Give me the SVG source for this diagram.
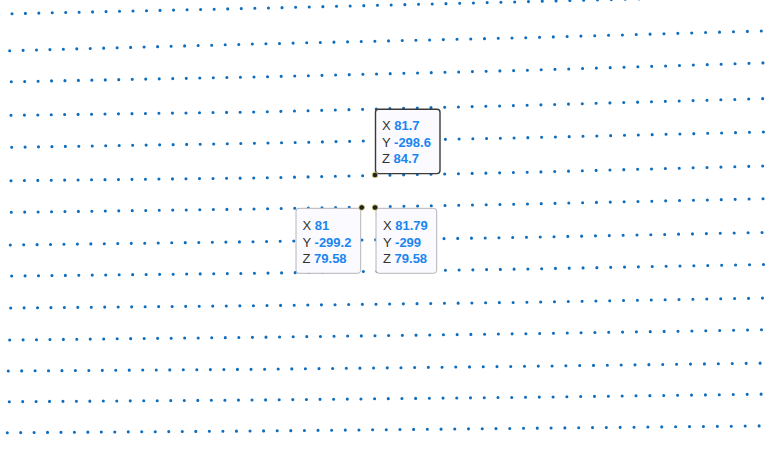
<svg xmlns="http://www.w3.org/2000/svg" width="770" height="456" viewBox="0 0 770 456">
<style>
.row{fill:none;stroke:#0e6dbd;stroke-width:3.1;stroke-linecap:round;stroke-dasharray:0 13.4 0 13.41 0 13.42 0 13.43 0 13.44 0 13.45 0 13.46 0 13.47 0 13.48 0 13.49 0 13.5 0 13.51 0 13.52 0 13.53 0 13.54 0 13.55 0 13.56 0 13.57 0 13.58 0 13.59 0 13.6 0 13.61 0 13.62 0 13.63 0 13.64 0 13.65 0 13.66 0 13.67 0 13.68 0 13.69 0 13.7 0 13.71 0 13.72 0 13.73 0 13.74 0 13.75 0 13.76 0 13.77 0 13.78 0 13.79 0 13.8 0 13.81 0 13.82 0 13.83 0 13.84 0 13.85 0 13.86 0 13.87 0 13.88 0 13.89 0 13.9 0 13.91 0 13.92 0 13.93 0 13.94 0 13.95 0 13.96 0 13.97 0 13.98 0 13.99}
.box{fill:#fafaff;stroke:#b4b4b8;stroke-width:1}
.box.sel{stroke:#3a3a3a;stroke-width:1.4}
.lb{font-family:"Liberation Sans",Arial,sans-serif;font-size:13px;fill:#333}
.v{fill:#1a86f0;font-weight:bold}
.pt{fill:#222;stroke:#e2d770;stroke-width:0.8}
</style>
<rect width="770" height="456" fill="#ffffff"/>
<g id="grid">
<polyline class="row" points="-1.4,14 255,8.3 525,1.7 750,-3.8 780,-4.5"/>
<polyline class="row" points="9.7,50.7 255,44 525,37.7 750,31.3 780,30.5"/>
<polyline class="row" points="11.3,81.7 255,77 525,70.3 750,63.3 780,62.4"/>
<polyline class="row" points="11,115.3 255,112 525,105.3 750,99 780,98.2"/>
<polyline class="row" points="11.7,147.3 255,143.3 525,137.7 750,132.3 780,131.6"/>
<polyline class="row" points="11,180.7 255,178 525,172.3 750,166.3 780,165.5"/>
<polyline class="row" points="11.3,212.3 255,209 525,204 750,199 780,198.3"/>
<polyline class="row" points="10.3,245 255,241.7 525,237.3 750,232.7 780,232.1"/>
<polyline class="row" points="11.7,276 255,273.3 525,269 750,264.7 780,264.1"/>
<polyline class="row" points="10.7,308 255,305.7 525,302.3 750,298.3 780,297.8"/>
<polyline class="row" points="9.7,340 255,337.3 525,333.7 750,330 780,329.5"/>
<polyline class="row" points="8.3,371 255,369.3 525,366.3 750,363.3 780,362.9"/>
<polyline class="row" points="9.3,401.7 255,400 525,397.3 750,394.3 780,393.9"/>
<polyline class="row" points="7.3,432.7 255,431 525,428.3 750,426 780,425.7"/>
</g>
<g id="connectors"></g>
<g id="node-a">
<rect class="box sel" x="375.5" y="109.3" width="64.5" height="64.3" rx="3"/>
<text class="lb" x="382" y="130.3">X <tspan class="v">81.7</tspan></text>
<text class="lb" x="382" y="146.8">Y <tspan class="v">-298.6</tspan></text>
<text class="lb" x="382" y="163.3">Z <tspan class="v">84.7</tspan></text>
<circle class="pt" cx="375" cy="175" r="2.8"/>
</g>
<g id="node-b">
<rect class="box" x="296" y="208.3" width="64.7" height="65" rx="3"/>
<text class="lb" x="302.5" y="230">X <tspan class="v">81</tspan></text>
<text class="lb" x="302.5" y="246.5">Y <tspan class="v">-299.2</tspan></text>
<text class="lb" x="302.5" y="263">Z <tspan class="v">79.58</tspan></text>
<circle class="pt" cx="361.7" cy="207.5" r="2.8"/>
</g>
<g id="node-c">
<rect class="box" x="376" y="208.3" width="60.7" height="65" rx="3"/>
<text class="lb" x="383" y="230">X <tspan class="v">81.79</tspan></text>
<text class="lb" x="383" y="246.5">Y <tspan class="v">-299</tspan></text>
<text class="lb" x="383" y="263">Z <tspan class="v">79.58</tspan></text>
<circle class="pt" cx="375" cy="207.5" r="2.8"/>
</g>
</svg>
